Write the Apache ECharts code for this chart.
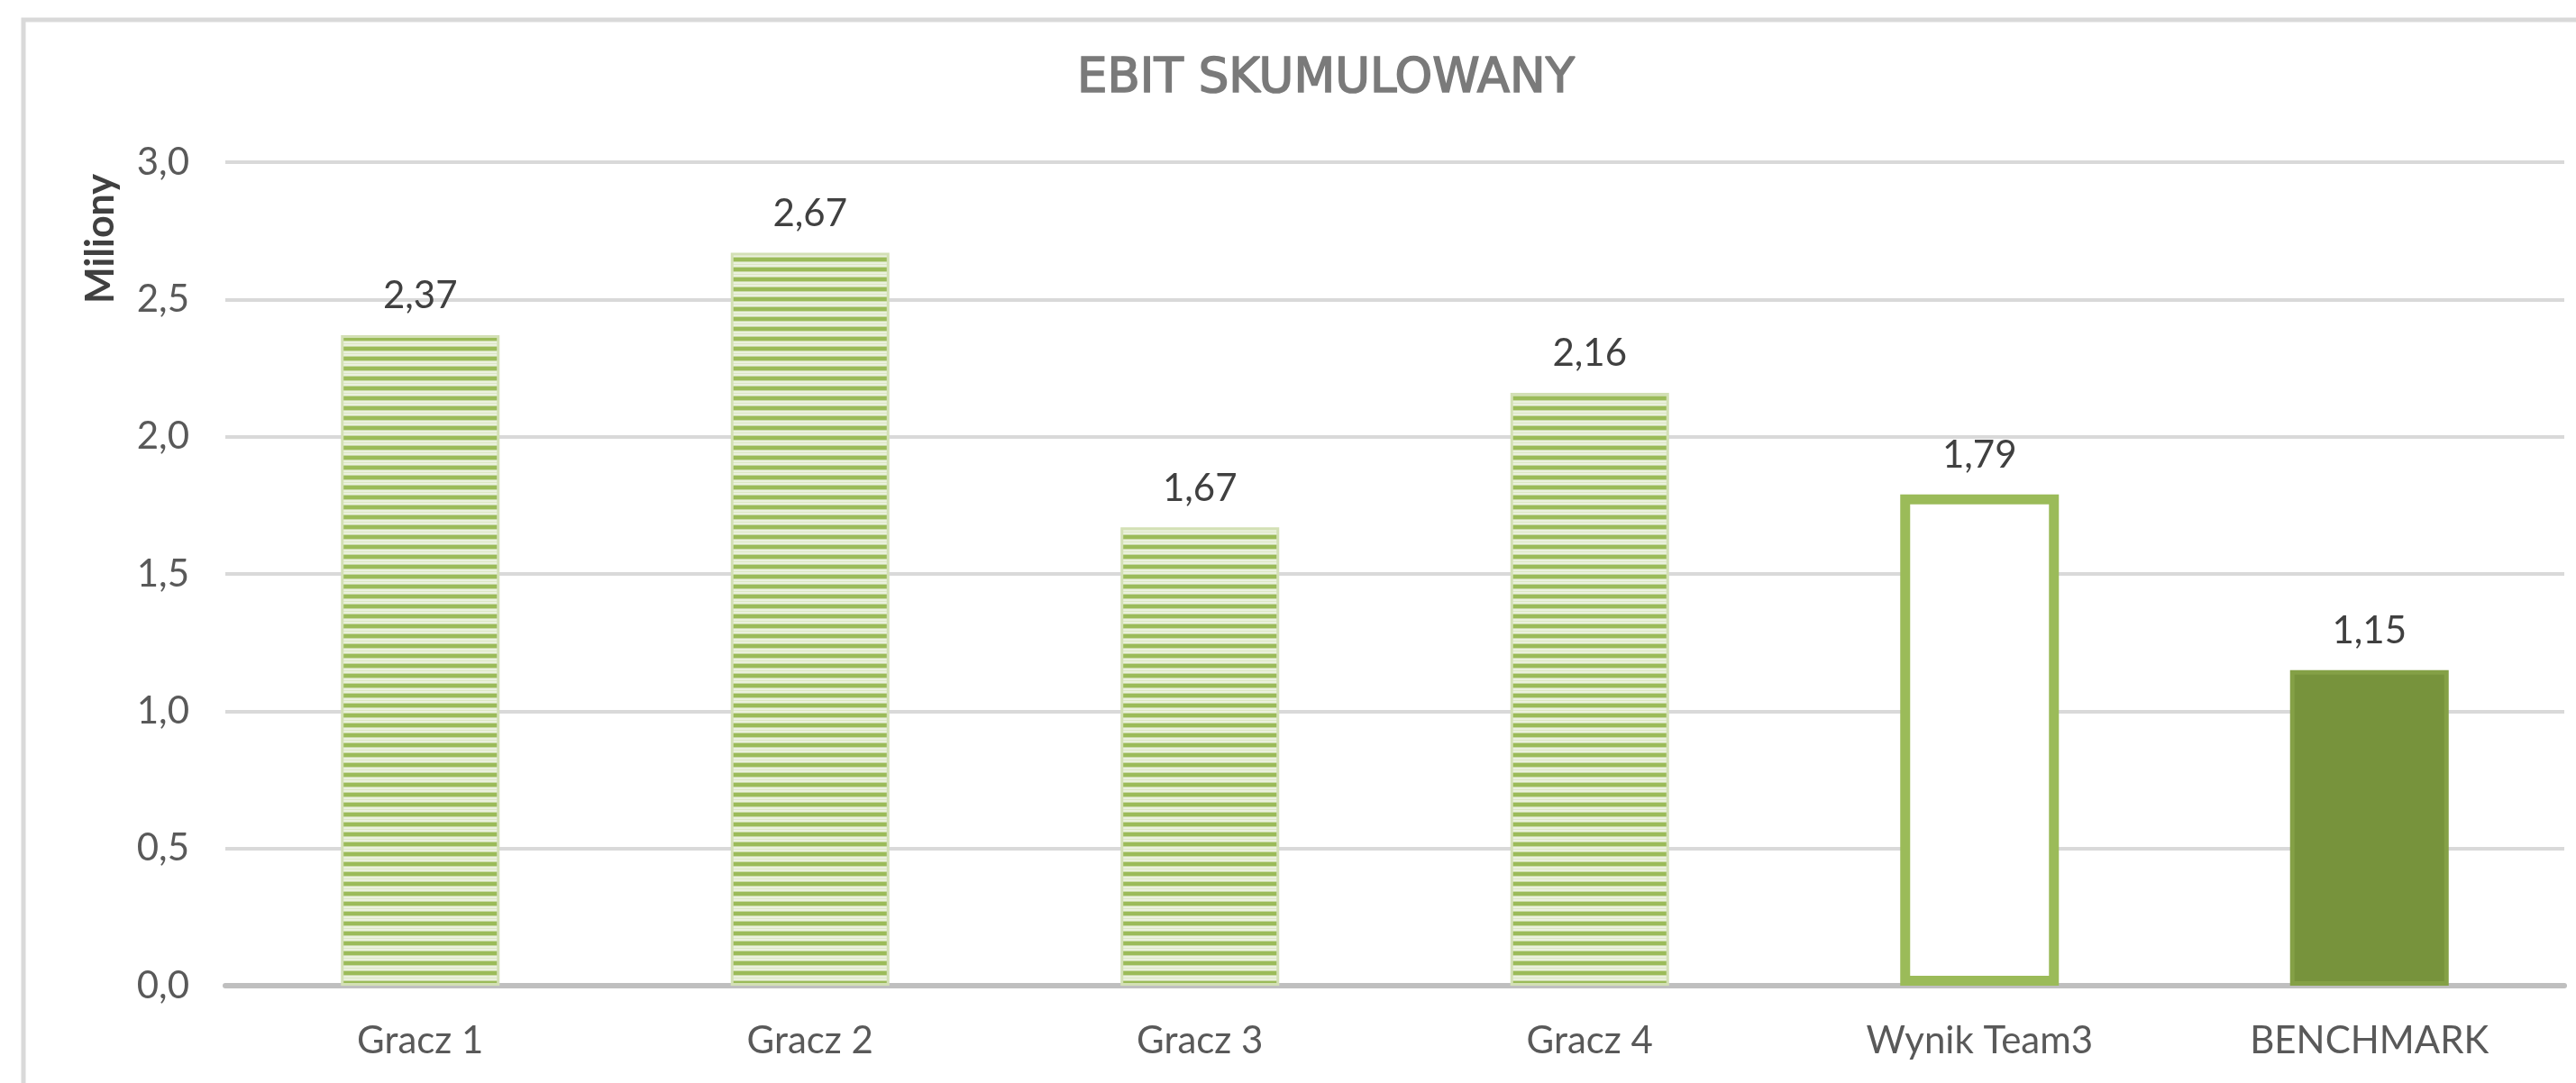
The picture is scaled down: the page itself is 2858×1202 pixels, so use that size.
<!DOCTYPE html>
<html>
<head>
<meta charset="utf-8">
<title>EBIT skumulowany</title>
<script src="https://cdn.jsdelivr.net/npm/echarts@6/dist/echarts.min.js"></script>
<style>
  html, body { margin: 0; padding: 0; background: #fff; }
  #chart { width: 2858px; height: 1202px; }
</style>
</head>
<body>
<div id="chart"></div>
<script>
// dane
var categories = ['Gracz 1', 'Gracz 2', 'Gracz 3', 'Gracz 4', 'Wynik Team3', 'BENCHMARK'];
var values = [2.37, 2.67, 1.67, 2.16, 1.79, 1.15];
var yTicks = [0, 0.5, 1.0, 1.5, 2.0, 2.5, 3.0];

// wzor paskow dla graczy
function stripePattern() {
    var c = document.createElement('canvas');
    c.width = 16;
    c.height = 11;
    var ctx = c.getContext('2d');
    ctx.fillStyle = '#EBF1DE';
    ctx.fillRect(0, 0, 16, 11);
    ctx.fillStyle = '#9BBB59';
    ctx.fillRect(0, 0, 16, 4);
    ctx.fillStyle = '#C9DAA6';
    ctx.fillRect(0, 4, 16, 1);
    ctx.fillRect(0, 10, 16, 1);
    ctx.fillStyle = '#DCE7C4';
    ctx.fillRect(0, 7, 16, 1);
    return c;
}
var stripes = { image: stripePattern(), repeat: 'repeat' };

var fmt = function (v) { return v.toFixed(2).replace('.', ','); };

var barData = values.map(function (v, i) {
    var style;
    if (i < 4) {
        style = { color: stripes, borderColor: '#D3E0B5', borderWidth: 3 };
    } else if (i === 4) {
        style = { color: '#ffffff', borderColor: '#9BBB59', borderWidth: 11 };
    } else {
        style = { color: '#77933C', borderColor: '#84A046', borderWidth: 5 };
    }
    return { value: v, itemStyle: style };
});

var myChart = echarts.init(document.getElementById('chart'), null, { renderer: 'canvas' });
myChart.setOption({
    animation: false,
    backgroundColor: '#ffffff',
    textStyle: { fontFamily: 'Lato' },
    title: {
        text: 'EBIT SKUMULOWANY',
        left: 1466,
        top: 57,
        textAlign: 'center',
        textStyle: {
            fontFamily: 'DejaVu Sans',
            fontWeight: 'normal',
            fontSize: 53,
            color: '#7a7a7a',
            textBorderColor: '#7a7a7a',
            textBorderWidth: 1.6
        }
    },
    graphic: [
        {
            type: 'rect',
            shape: { x: 26, y: 22, width: 2900, height: 1300 },
            style: { fill: 'none', stroke: '#D9D9D9', lineWidth: 5 },
            silent: true
        },
        {
            type: 'text',
            x: 112,
            y: 265,
            rotation: Math.PI / 2,
            style: {
                text: 'Miliony',
                fontFamily: 'Lato',
                fontWeight: 'bold',
                fontSize: 43,
                fill: '#404040',
                align: 'center',
                verticalAlign: 'middle'
            }
        }
    ],
    grid: {
        left: 250,
        right: 13,
        top: 180,
        bottom: 108
    },
    xAxis: {
        type: 'category',
        data: categories,
        axisTick: { show: false },
        axisLine: { lineStyle: { color: '#BFBFBF', width: 6 } },
        axisLabel: {
            color: '#595959',
            fontSize: 42,
            fontFamily: 'Lato',
            margin: 40
        }
    },
    yAxis: {
        type: 'value',
        min: yTicks[0],
        max: yTicks[yTicks.length - 1],
        interval: 0.5,
        axisLine: { show: false },
        axisTick: { show: false },
        splitLine: { lineStyle: { color: '#D9D9D9', width: 4 } },
        axisLabel: {
            color: '#595959',
            fontSize: 42,
            fontFamily: 'Lato',
            margin: 40,
            formatter: function (v) { return v.toFixed(1).replace('.', ','); }
        }
    },
    series: [{
        type: 'bar',
        data: barData,
        barWidth: 176,
        label: {
            show: true,
            position: 'top',
            distance: 22,
            color: '#404040',
            fontSize: 42,
            fontFamily: 'Lato',
            formatter: function (p) { return fmt(p.value); }
        }
    }]
});
</script>
</body>
</html>
